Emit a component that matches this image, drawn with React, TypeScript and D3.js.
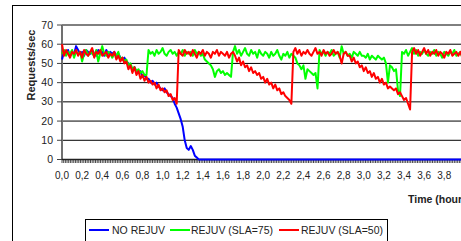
import React from 'react';
import * as d3 from 'd3';

// time step between samples, hours
const STEP = 0.02;

const noRejuv: number[] = [
  52, 56, 55, 57, 54, 56, 55, 59, 57, 55, 56, 54, 57, 56, 55, 57, 55, 54, 57, 55,
  56, 54, 57, 55, 56, 55, 56, 54, 55, 53,
  52, 53, 51, 50, 49, 47, 48, 46, 45, 46, 43, 44, 42, 42, 40, 41, 39, 40, 38, 37,
  36, 37, 35, 34, 33, 32,
  29, 27, 24, 21, 17, 10, 6, 5, 7, 5, 2, 1,
  0, 0, 0, 0, 0, 0, 0, 0, 0, 0, 0, 0, 0, 0, 0, 0, 0, 0, 0, 0,
  0, 0, 0, 0, 0, 0, 0, 0, 0, 0, 0, 0, 0, 0, 0, 0, 0, 0, 0, 0,
  0, 0, 0, 0, 0, 0, 0, 0, 0, 0, 0, 0, 0, 0, 0, 0, 0, 0, 0, 0,
  0, 0, 0, 0, 0, 0, 0, 0, 0, 0, 0, 0, 0, 0, 0, 0, 0, 0, 0, 0,
  0, 0, 0, 0, 0, 0, 0, 0, 0, 0, 0, 0, 0, 0, 0, 0, 0, 0, 0, 0,
  0, 0, 0, 0, 0, 0, 0, 0, 0, 0, 0, 0, 0, 0, 0, 0, 0, 0, 0, 0,
  0, 0, 0, 0, 0, 0, 0, 0, 0, 0, 0, 0, 0,
];

const rejuv75: number[] = [
  55, 57, 54, 56, 55, 57, 53, 56, 55, 56,
  51, 55, 57, 54, 56, 55, 54, 57, 51, 55,
  59, 55, 54, 56, 55, 53, 55, 54, 56, 52,
  53, 51, 52, 49, 50, 47, 48, 46, 47, 45, 46, 44, 44,
  57, 55, 56, 54, 57, 55, 56, 58, 55, 54, 56, 57, 55, 56, 54, 56, 55, 57, 54, 56,
  55, 56, 54, 57, 55, 56, 54, 55,
  52, 51, 50, 49, 47, 43, 46, 47, 45, 46, 44, 45, 44, 43,
  56, 59, 55, 57, 54, 56, 58, 55, 54, 57, 55, 56, 53, 57, 55, 54, 56, 55, 53, 56,
  54, 55, 57, 54, 52, 55, 54, 56, 53, 55, 54,
  53, 50, 49, 47, 49, 42, 47, 46, 45, 44, 45, 37,
  57, 55, 56, 54, 56, 55, 57, 54, 55, 56, 53, 59, 55, 56, 54, 55, 53, 56, 55, 54,
  56, 54, 54, 53, 55, 52, 54, 53, 52, 54, 53, 52, 53,
  50, 40, 49, 48, 46, 47, 36, 33,
  56, 55, 57, 54, 56, 58, 55, 57, 54, 56, 55, 57, 55, 54, 56, 55, 57, 54, 56, 55,
  53, 56, 55, 54, 56, 55, 57, 54, 55, 56, 53, 51,
];

const rejuv50: number[] = [
  60, 54, 57, 55, 53, 56, 55, 57, 54, 56, 53, 57, 55, 54, 56, 58, 53, 56, 55, 57,
  54, 55, 56, 53, 55,
  54, 56, 52, 54, 51, 53, 50, 51, 47, 49, 45, 48, 44, 46, 42, 44, 41, 43, 40, 41,
  39, 40, 37, 39, 36, 37, 35, 36, 33, 34, 31, 32, 29,
  57, 55, 54, 57, 55, 56, 54, 57, 55, 53, 56, 55, 57, 54, 56, 55, 53, 56, 55, 57,
  54, 56, 55, 54, 56, 53, 55, 56,
  54, 51, 53, 49, 51, 48, 49, 46, 48, 45, 46, 44, 45, 42, 43, 40, 42, 39, 40, 37,
  39, 36, 37, 34, 35, 33, 32, 31, 29,
  56, 58, 55, 57, 54, 56, 55, 57, 55, 54, 56, 58, 55, 56, 54, 57, 55, 56, 54, 55,
  57, 55, 56, 54, 50, 55, 56, 54,
  54, 51, 53, 50, 51, 48, 49, 46, 48, 45, 46, 43, 45, 42, 43, 40, 42, 39, 40, 37,
  38, 37, 36, 37, 34, 35, 33, 31, 32, 29, 26,
  56, 58, 55, 57, 54, 56, 58, 55, 57, 54, 56, 55, 57, 54, 56, 55, 53, 56, 55, 57,
  54, 55, 56, 54, 56, 53, 55,
];

const seriesNames = ['NO REJUV', 'REJUV (SLA=75)', 'REJUV (SLA=50)'];
const seriesColors = ['#0000FF', '#00FF00', '#FF0000'];
const yTicks = [0, 10, 20, 30, 40, 50, 60, 70];
const xTickValues = [0, 0.2, 0.4, 0.6, 0.8, 1.0, 1.2, 1.4, 1.6, 1.8, 2.0, 2.2, 2.4, 2.6, 2.8, 3.0, 3.2, 3.4, 3.6, 3.8];
const xTickLabels = ['0,0', '0,2', '0,4', '0,6', '0,8', '1,0', '1,2', '1,4', '1,6', '1,8', '2,0', '2,2', '2,4', '2,6', '2,8', '3,0', '3,2', '3,4', '3,6', '3,8'];

const FONT = '"Liberation Sans", Arial, sans-serif';

export default function App() {
  const W = 461;
  const H = 241;
  const x = d3.scaleLinear().domain([0, 4]).range([62, 464.4]);
  const y = d3.scaleLinear().domain([0, 70]).range([159.5, 25]);
  const line = d3
    .line<number>()
    .x((_, i) => x(i * STEP))
    .y((v) => y(v));

  const series = [noRejuv, rejuv75, rejuv50];
  const minuteTicks = d3.range(0, 241).map((i) => i / 60);
  const legendLineX = [89, 170, 279];
  const legendTextX = [112, 191, 301];

  return (
    <svg
      width={W}
      height={H}
      style={{ position: 'absolute', left: 0, top: 0, background: '#fff' }}
      fontFamily={FONT}
    >
      <rect x={0} y={0} width={W} height={H} fill="#fff" />
      <rect x={12.5} y={5.5} width={520} height={300} fill="#fff" stroke="#000" strokeWidth={1} />

      {/* gridlines */}
      {yTicks.filter((t) => t > 0).map((t) => (
        <line key={'g' + t} x1={62} x2={480} y1={y(t)} y2={y(t)} stroke="#000" strokeWidth={1} />
      ))}

      {/* y axis */}
      <line x1={62} x2={62} y1={y(70)} y2={y(0)} stroke="#707070" strokeWidth={2} />
      {yTicks.map((t) => (
        <g key={'yt' + t}>
          <line x1={57} x2={62} y1={y(t)} y2={y(t)} stroke="#444" strokeWidth={1} />
          <text x={53} y={y(t) + 3.6} fontSize={10.5} textAnchor="end" fill="#222">
            {t}
          </text>
        </g>
      ))}

      {/* x axis minute ticks */}
      {minuteTicks.map((t, i) => (
        <line key={'mt' + i} x1={x(t)} x2={x(t)} y1={159.5} y2={163} stroke="#333" strokeWidth={0.9} />
      ))}
      <line x1={62} x2={480} y1={159.5} y2={159.5} stroke="#222" strokeWidth={1.5} />
      {xTickValues.map((t, i) => (
        <text key={'xl' + i} x={x(t)} y={179} fontSize={10} textAnchor="middle" fill="#222">
          {xTickLabels[i]}
        </text>
      ))}

      {/* series */}
      {series.map((s, k) => (
        <path
          key={'s' + k}
          d={line(s) || ''}
          fill="none"
          stroke={seriesColors[k]}
          strokeWidth={2}
          strokeLinejoin="round"
        />
      ))}

      {/* axis titles */}
      <text
        transform="translate(35,65) rotate(-90)"
        fontSize={11}
        fontWeight="bold"
        textAnchor="middle"
        fill="#222"
      >
        Requests/sec
      </text>
      <text x={408} y={203} fontSize={10.5} fontWeight="bold" fill="#222">
        Time (hours)
      </text>

      {/* legend */}
      <rect x={85.5} y={219.5} width={302} height={40} fill="#fff" stroke="#000" strokeWidth={1} />
      {seriesNames.map((n, k) => (
        <g key={'lg' + k}>
          <line
            x1={legendLineX[k]}
            x2={legendLineX[k] + 20}
            y1={230}
            y2={230}
            stroke={seriesColors[k]}
            strokeWidth={2}
          />
          <text x={legendTextX[k]} y={233.5} fontSize={10.5} fill="#222">
            {n}
          </text>
        </g>
      ))}
    </svg>
  );
}
